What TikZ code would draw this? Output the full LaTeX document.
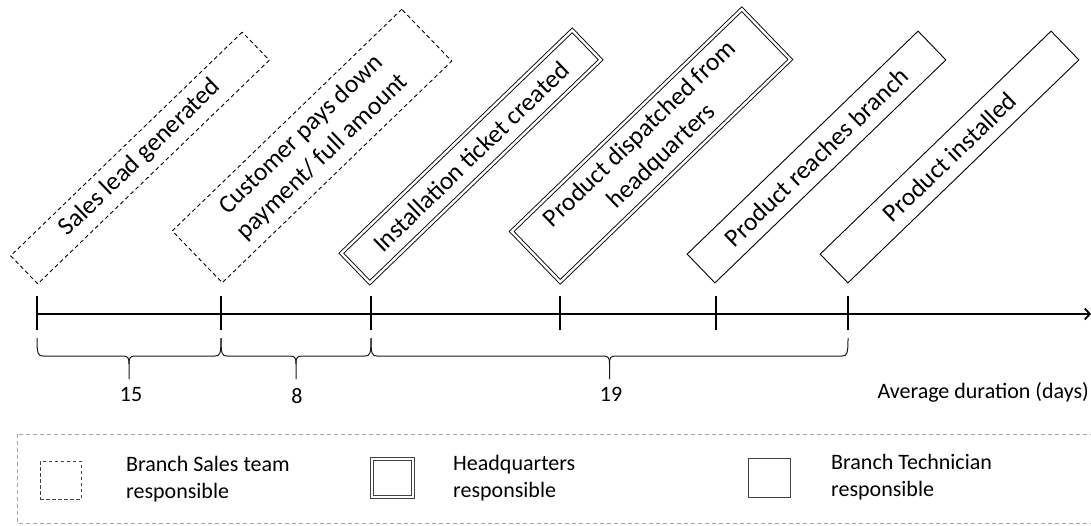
\documentclass[tikz,border=0pt]{standalone}
\usepackage{fontspec}
\setmainfont{Carlito}
\usetikzlibrary{arrows.meta}
\begin{document}
\begin{tikzpicture}[x=1pt,y=-1pt,
  evt/.style={draw, rotate=44, align=center, font=\fontsize{25.5}{31}\selectfont, inner sep=0pt, line width=0.9pt},
  salesbox/.style={evt, dash pattern=on 4pt off 3pt},
  hqbox/.style={evt, double, double distance=2.4pt},
  techbox/.style={evt},
  lbl/.style={font=\fontsize{22}{27}\selectfont, align=left, inner sep=0pt},
  tickmark/.style={line width=2.8pt},
  bracestyle/.style={line width=1pt, draw=black!90},
  legendframe/.style={draw=black!35, line width=0.8pt, dash pattern=on 4pt off 3pt},
]
\useasboundingbox (0,0) rectangle (1091,525);

% event boxes
\node[salesbox, minimum width=322pt, minimum height=39pt] (lead) at (140,158) {Sales lead generated};
\node[salesbox, minimum width=319pt, minimum height=72pt] (pay) at (312,146) {Customer pays down\\payment/ full amount};
\node[hqbox, minimum width=321pt, minimum height=41pt] (ticket) at (471,156.5) {Installation ticket created};
\node[hqbox, minimum width=320pt, minimum height=70pt] (disp) at (651,145.5) {Product dispatched from\\headquarters};
\node[techbox, minimum width=321pt, minimum height=40pt] (reach) at (816.5,157) {Product reaches branch};
\node[techbox, minimum width=321pt, minimum height=40pt] (inst) at (949.5,157) {Product installed};

% timeline
\coordinate (t1) at (37,314);
\coordinate (t2) at (221,314);
\coordinate (t3) at (371,314);
\coordinate (t4) at (560,314);
\coordinate (t5) at (716,314);
\coordinate (t6) at (848,314);
\coordinate (tend) at (1091,314);
\draw[line width=2.5pt, -{Straight Barb[length=5pt,width=11pt,line width=1.8pt]}] (t1) -- (tend);
\foreach \t in {t1,t2,t3,t4,t5,t6}
  \draw[tickmark] ([yshift=-16pt]\t) -- ([yshift=18pt]\t);

% braces
\newcommand\tlbrace[3]{%
  \draw[bracestyle] (#1,338) .. controls (#1,354) and (#1+1,356) .. (#1+6,356)
    -- (#3-6,356) .. controls (#3-1,356) and (#3,358) .. (#3,364) -- (#3,379);
  \draw[bracestyle] (#3,364) .. controls (#3,358) and (#3+1,356) .. (#3+6,356)
    -- (#2-6,356) .. controls (#2-1,356) and (#2,354) .. (#2,338);
}
\tlbrace{37}{221}{129}
\tlbrace{221}{371}{296}
\tlbrace{371}{848}{609.5}

\node[lbl] (d15) at (131,394) {15};
\node[lbl] (d8) at (297,396) {8};
\node[lbl] (d19) at (611,394) {19};
\node[lbl, anchor=east] (axis) at (1089,392) {Average duration (days)};

% legend
\draw[legendframe] (17,434) rectangle (1100,523);
\node[draw=black!75, line width=0.8pt, dash pattern=on 3.5pt off 2.5pt, minimum width=41pt, minimum height=38pt, inner sep=0pt] (lgs) at (60.5,480) {};
\node[lbl, anchor=west] (lgstext) at (126,479) {Branch Sales team\\responsible};
\node[draw=black!75, line width=0.8pt, double, double distance=2.4pt, minimum width=41pt, minimum height=38pt, inner sep=0pt] (lgh) at (392.5,478) {};
\node[lbl, anchor=west] (lghtext) at (453,478) {Headquarters\\responsible};
\node[draw=black!75, line width=0.8pt, minimum width=42pt, minimum height=39pt, inner sep=0pt] (lgt) at (769,477.5) {};
\node[lbl, anchor=west] (lgttext) at (831,477) {Branch Technician\\responsible};
\end{tikzpicture}
\end{document}
